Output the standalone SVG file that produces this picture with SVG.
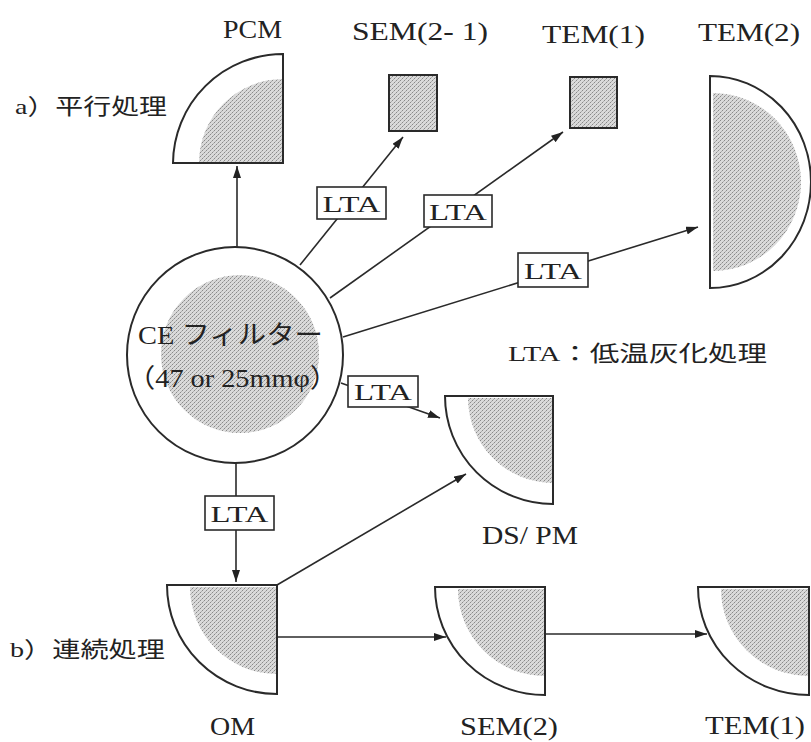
<svg xmlns="http://www.w3.org/2000/svg" width="811" height="742" viewBox="0 0 811 742">
<style>
.bg{fill:#ffffff}
.shape{fill:none;stroke:#2a2a2a;stroke-width:2}
.shade{fill:url(#stipple);stroke:none}
.conn{fill:none;stroke:#2a2a2a;stroke-width:1.6}
.box{fill:#ffffff;stroke:#2a2a2a;stroke-width:1.6}
.lbl{font-family:"Liberation Serif","Noto Sans CJK JP",serif;font-size:26px;fill:#222}
.lta{font-family:"Liberation Serif",serif;font-size:24px;fill:#222;text-anchor:middle}
.jp{font-family:"Liberation Serif","Noto Sans CJK JP",serif;font-size:22px;fill:#222}
</style>
<defs>
<pattern id="stipple" width="4" height="4" patternUnits="userSpaceOnUse">
<rect width="4" height="4" fill="#dadada"/>
<rect x="0" y="0" width="1" height="1" fill="#8a8a8a"/>
<rect x="2" y="2" width="1" height="1" fill="#8a8a8a"/>
<rect x="1" y="3" width="1" height="1" fill="#b0b0b0"/>
<rect x="3" y="1" width="1" height="1" fill="#b0b0b0"/>
</pattern>
<marker id="arr" markerWidth="12" markerHeight="8" refX="12" refY="4" orient="auto" markerUnits="userSpaceOnUse">
<path d="M0,0 L12,4 L0,8 z" fill="#222"/>
</marker>
</defs>
<rect width="811" height="742" fill="#ffffff"/>

<g id="label-a"><text class="jp" x="15" y="114" textLength="152" lengthAdjust="spacingAndGlyphs">a）平行処理</text></g>
<g id="label-b"><text class="jp" x="10" y="657" textLength="155" lengthAdjust="spacingAndGlyphs">b）連続処理</text></g>
<g id="legend"><text class="jp" x="508" y="361" font-size="24" textLength="259" lengthAdjust="spacingAndGlyphs">LTA：低温灰化処理</text></g>

<g id="connectors">
<line class="conn" x1="237" y1="247" x2="237" y2="166" marker-end="url(#arr)"/>
<line class="conn" x1="300" y1="265" x2="403" y2="137" marker-end="url(#arr)"/>
<line class="conn" x1="330" y1="298" x2="563" y2="132" marker-end="url(#arr)"/>
<line class="conn" x1="343" y1="337" x2="698" y2="227" marker-end="url(#arr)"/>
<line class="conn" x1="341" y1="383" x2="440" y2="418" marker-end="url(#arr)"/>
<line class="conn" x1="236" y1="462" x2="236" y2="582" marker-end="url(#arr)"/>
<line class="conn" x1="277" y1="585" x2="466" y2="474" marker-end="url(#arr)"/>
<line class="conn" x1="277" y1="637" x2="446" y2="637" marker-end="url(#arr)"/>
<line class="conn" x1="545" y1="634" x2="707" y2="634" marker-end="url(#arr)"/>
</g>

<g id="connector-labels">
<rect class="box" x="317" y="187" width="69" height="32"/>
<text class="lta" x="351.5" y="212" textLength="58" lengthAdjust="spacingAndGlyphs">LTA</text>
<rect class="box" x="424" y="195" width="68" height="32"/>
<text class="lta" x="458" y="220" textLength="58" lengthAdjust="spacingAndGlyphs">LTA</text>
<rect class="box" x="518" y="253" width="70" height="34"/>
<text class="lta" x="553" y="279" textLength="58" lengthAdjust="spacingAndGlyphs">LTA</text>
<rect class="box" x="348" y="376" width="70" height="31"/>
<text class="lta" x="383" y="400" textLength="58" lengthAdjust="spacingAndGlyphs">LTA</text>
<rect class="box" x="205" y="496" width="69" height="34"/>
<text class="lta" x="239.5" y="522" textLength="58" lengthAdjust="spacingAndGlyphs">LTA</text>
</g>

<g id="ce-filter">
<circle cx="235" cy="355" r="108" class="bg"/>
<circle cx="240" cy="354" r="79" class="shade"/>
<circle cx="235" cy="355" r="108" class="shape"/>
<text class="lbl" x="138" y="344" font-size="24" textLength="185" lengthAdjust="spacingAndGlyphs">CE フィルター</text>
<text class="lbl" x="127" y="387" font-size="24" textLength="211" lengthAdjust="spacingAndGlyphs">（47 or 25mmφ）</text>
</g>

<g id="pcm">
<path class="bg" d="M173,163 A110,110 0 0 1 283,54 L283,163 Z"/>
<path class="shade" d="M199,163 A84,84 0 0 1 283,79 L283,163 Z"/>
<path class="shape" d="M173,163 A110,110 0 0 1 283,54 L283,163 Z"/>
<text class="lbl" x="223" y="38" textLength="59" lengthAdjust="spacingAndGlyphs">PCM</text>
</g>

<g id="sem21">
<rect class="shade" x="389" y="75" width="48" height="56"/>
<rect class="shape" x="389" y="75" width="48" height="56"/>
<text class="lbl" x="352" y="40" textLength="136" lengthAdjust="spacingAndGlyphs">SEM(2- 1)</text>
</g>

<g id="tem1-top">
<rect class="shade" x="570" y="77" width="47" height="51"/>
<rect class="shape" x="570" y="77" width="47" height="51"/>
<text class="lbl" x="542" y="43" textLength="103" lengthAdjust="spacingAndGlyphs">TEM(1)</text>
</g>

<g id="tem2">
<path class="bg" d="M710,76 A101,106 0 0 1 710,288 Z"/>
<path class="shade" d="M713,93 A88,89 0 0 1 713,271 Z"/>
<path class="shape" d="M710,76 A101,106 0 0 1 710,288 Z"/>
<text class="lbl" x="698" y="41" textLength="102" lengthAdjust="spacingAndGlyphs">TEM(2)</text>
</g>

<g id="dspm">
<path class="bg" d="M445,396 L553,396 L553,504 A108,108 0 0 1 445,396 Z"/>
<path class="shade" d="M468,398 L553,398 L553,483 A85,85 0 0 1 468,398 Z"/>
<path class="shape" d="M445,396 L553,396 L553,504 A108,108 0 0 1 445,396 Z"/>
<text class="lbl" x="482" y="544" textLength="96" lengthAdjust="spacingAndGlyphs">DS/ PM</text>
</g>

<g id="om">
<path class="bg" d="M167,585 L277,585 L277,694 A110,109 0 0 1 167,585 Z"/>
<path class="shade" d="M190,587 L277,587 L277,674 A87,87 0 0 1 190,587 Z"/>
<path class="shape" d="M167,585 L277,585 L277,694 A110,109 0 0 1 167,585 Z"/>
<text class="lbl" x="210" y="735" textLength="45" lengthAdjust="spacingAndGlyphs">OM</text>
</g>

<g id="sem2">
<path class="bg" d="M435,587 L545,587 L545,695 A110,108 0 0 1 435,587 Z"/>
<path class="shade" d="M458,589 L545,589 L545,676 A87,87 0 0 1 458,589 Z"/>
<path class="shape" d="M435,587 L545,587 L545,695 A110,108 0 0 1 435,587 Z"/>
<text class="lbl" x="460" y="735" textLength="98" lengthAdjust="spacingAndGlyphs">SEM(2)</text>
</g>

<g id="tem1-bottom">
<path class="bg" d="M698,587 L809,587 L809,695 A111,108 0 0 1 698,587 Z"/>
<path class="shade" d="M721,589 L809,589 L809,676 A88,87 0 0 1 721,589 Z"/>
<path class="shape" d="M698,587 L809,587 L809,695 A111,108 0 0 1 698,587 Z"/>
<text class="lbl" x="705" y="734" textLength="100" lengthAdjust="spacingAndGlyphs">TEM(1)</text>
</g>
</svg>
